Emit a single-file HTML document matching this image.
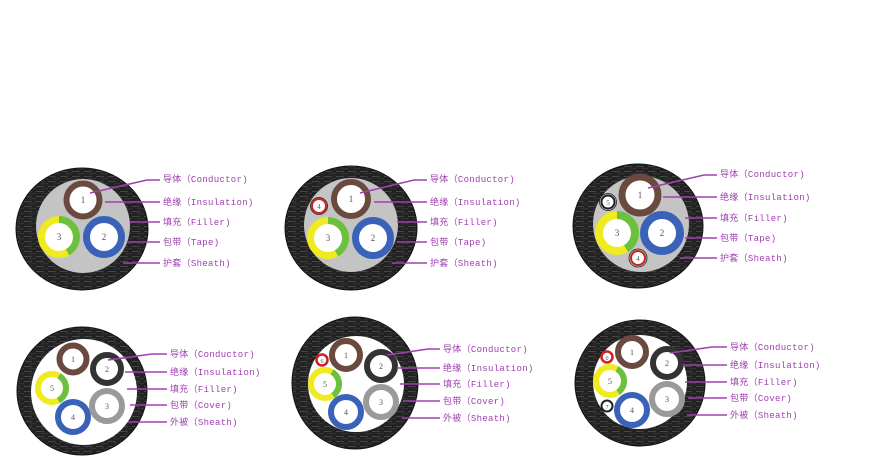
<!DOCTYPE html>
<html><head><meta charset="utf-8"><style>
html,body{margin:0;padding:0;background:#fff;}
svg{display:block;}
.l{font-family:"Liberation Mono","Noto Sans CJK SC",monospace;font-size:9px;fill:#a040b0;letter-spacing:0.3px;}
.ln{stroke:#a040b0;stroke-width:1.6;fill:none;}
.n{font-family:"Liberation Serif",serif;font-size:9px;fill:#555;text-anchor:middle;}
.sh{fill:#252525;}
.st{stroke:#4a4a4a;stroke-width:0.8;}
</style></head><body>
<svg width="894" height="458" viewBox="0 0 894 458" xmlns="http://www.w3.org/2000/svg">
<defs>
<pattern id="str" width="12" height="5" patternUnits="userSpaceOnUse">
<rect width="12" height="5" fill="#222"/>
<line x1="0" y1="1.5" x2="8" y2="1.8" stroke="#555" stroke-width="0.7"/>
<line x1="5" y1="4" x2="12" y2="3.7" stroke="#444" stroke-width="0.6"/>
</pattern>
</defs>

<!-- Diagram 1 -->
<ellipse cx="82" cy="229" rx="66" ry="61" fill="url(#str)" stroke="#111"/>
<circle cx="83" cy="226" r="47" fill="#c4c4c4"/>
<circle cx="83" cy="200" r="16.5" fill="#fff" stroke="#6a4a3e" stroke-width="6"/>
<circle cx="59" cy="237" r="17.5" fill="#fff" stroke="#f0ea20" stroke-width="7"/>
<circle cx="59" cy="237" r="17.5" fill="none" stroke="#6cc040" stroke-width="7" stroke-dasharray="46 200" transform="rotate(-90 59 237)"/>
<circle cx="104" cy="237" r="17.5" fill="#fff" stroke="#3a62b8" stroke-width="7"/>
<text class="n" x="83" y="203">1</text><text class="n" x="59" y="240">3</text><text class="n" x="104" y="240">2</text>
<polyline class="ln" points="160,180 147,180 90,193"/>
<line class="ln" x1="160" y1="202" x2="105" y2="202"/>
<line class="ln" x1="160" y1="222" x2="130" y2="222"/>
<line class="ln" x1="160" y1="242" x2="128" y2="242"/>
<line class="ln" x1="160" y1="263" x2="123" y2="263"/>
<text class="l" x="163" y="182">导体（Conductor)</text>
<text class="l" x="163" y="205">绝缘（Insulation)</text>
<text class="l" x="163" y="225">填充（Filler)</text>
<text class="l" x="163" y="245">包带（Tape)</text>
<text class="l" x="163" y="266">护套（Sheath)</text>

<!-- Diagram 2 -->
<ellipse cx="351" cy="228" rx="66" ry="62" fill="url(#str)" stroke="#111"/>
<circle cx="351" cy="225" r="47" fill="#c4c4c4"/>
<circle cx="351" cy="199" r="17" fill="#fff" stroke="#6a4a3e" stroke-width="6"/>
<circle cx="319" cy="206" r="7" fill="#fff" stroke="#d02020" stroke-width="2"/>
<circle cx="319" cy="206" r="8.5" fill="none" stroke="#222" stroke-width="0.8"/>
<circle cx="328" cy="238" r="17.5" fill="#fff" stroke="#f0ea20" stroke-width="7"/>
<circle cx="328" cy="238" r="17.5" fill="none" stroke="#6cc040" stroke-width="7" stroke-dasharray="46 200" transform="rotate(-90 328 238)"/>
<circle cx="373" cy="238" r="17.5" fill="#fff" stroke="#3a62b8" stroke-width="7"/>
<text class="n" x="351" y="202">1</text><text class="n" x="319" y="209" style="font-size:7px">4</text><text class="n" x="328" y="241">3</text><text class="n" x="373" y="241">2</text>
<polyline class="ln" points="427,180 414,180 360,193"/>
<line class="ln" x1="427" y1="202" x2="374" y2="202"/>
<line class="ln" x1="427" y1="222" x2="397" y2="222"/>
<line class="ln" x1="427" y1="242" x2="397" y2="242"/>
<line class="ln" x1="427" y1="263" x2="392" y2="263"/>
<text class="l" x="430" y="182">导体（Conductor)</text>
<text class="l" x="430" y="205">绝缘（Insulation)</text>
<text class="l" x="430" y="225">填充（Filler)</text>
<text class="l" x="430" y="245">包带（Tape)</text>
<text class="l" x="430" y="266">护套（Sheath)</text>

<!-- Diagram 3 -->
<ellipse cx="638" cy="226" rx="65" ry="62" fill="url(#str)" stroke="#111"/>
<circle cx="641" cy="224" r="48" fill="#c4c4c4"/>
<circle cx="640" cy="195" r="18" fill="#fff" stroke="#6a4a3e" stroke-width="7"/>
<circle cx="608" cy="202" r="6.5" fill="#fff" stroke="#222" stroke-width="2"/>
<circle cx="608" cy="202" r="8.5" fill="none" stroke="#222" stroke-width="0.8"/>
<circle cx="617" cy="233" r="18" fill="#fff" stroke="#f0ea20" stroke-width="8"/>
<circle cx="617" cy="233" r="18" fill="none" stroke="#6cc040" stroke-width="8" stroke-dasharray="47 200" transform="rotate(-90 617 233)"/>
<circle cx="662" cy="233" r="18" fill="#fff" stroke="#3a62b8" stroke-width="8"/>
<circle cx="638" cy="258" r="7" fill="#fff" stroke="#d02020" stroke-width="2"/>
<circle cx="638" cy="258" r="9" fill="none" stroke="#222" stroke-width="0.8"/>
<text class="n" x="640" y="198">1</text><text class="n" x="608" y="205" style="font-size:7px">5</text><text class="n" x="617" y="236">3</text><text class="n" x="662" y="236">2</text><text class="n" x="638" y="261" style="font-size:7px">4</text>
<polyline class="ln" points="717,175 704,175 648,188"/>
<line class="ln" x1="717" y1="197" x2="663" y2="197"/>
<line class="ln" x1="717" y1="218" x2="685" y2="218"/>
<line class="ln" x1="717" y1="238" x2="685" y2="238"/>
<line class="ln" x1="717" y1="258" x2="680" y2="258"/>
<text class="l" x="720" y="177">导体（Conductor)</text>
<text class="l" x="720" y="200">绝缘（Insulation)</text>
<text class="l" x="720" y="221">填充（Filler)</text>
<text class="l" x="720" y="241">包带（Tape)</text>
<text class="l" x="720" y="261">护套（Sheath)</text>

<!-- Diagram 4 -->
<ellipse cx="82" cy="391" rx="65" ry="64" fill="url(#str)" stroke="#111"/>
<circle cx="84" cy="392" r="53" fill="#fff"/>
<circle cx="73" cy="359" r="13.5" fill="#fff" stroke="#6a4a3e" stroke-width="6"/>
<circle cx="107" cy="369" r="14" fill="#fff" stroke="#333" stroke-width="6"/>
<circle cx="52" cy="388" r="14" fill="#fff" stroke="#f0ea20" stroke-width="6"/>
<circle cx="52" cy="388" r="14" fill="none" stroke="#6cc040" stroke-width="6" stroke-dasharray="30 200" transform="rotate(-60 52 388)"/>
<circle cx="73" cy="417" r="15" fill="#fff" stroke="#3a62b8" stroke-width="6"/>
<circle cx="107" cy="406" r="15" fill="#fff" stroke="#9a9a9a" stroke-width="6"/>
<text class="n" x="73" y="362" style="font-size:8px">1</text><text class="n" x="107" y="372" style="font-size:8px">2</text><text class="n" x="52" y="391" style="font-size:8px">5</text><text class="n" x="73" y="420" style="font-size:8px">4</text><text class="n" x="107" y="409" style="font-size:8px">3</text>
<polyline class="ln" points="167,354 152,354 108,360"/>
<line class="ln" x1="167" y1="372" x2="125" y2="372"/>
<line class="ln" x1="167" y1="389" x2="127" y2="389"/>
<line class="ln" x1="167" y1="405" x2="130" y2="405"/>
<line class="ln" x1="167" y1="422" x2="128" y2="422"/>
<text class="l" x="170" y="357">导体（Conductor)</text>
<text class="l" x="170" y="375">绝缘（Insulation)</text>
<text class="l" x="170" y="392">填充（Filler)</text>
<text class="l" x="170" y="408">包带（Cover)</text>
<text class="l" x="170" y="425">外被（Sheath)</text>

<!-- Diagram 5 -->
<ellipse cx="355" cy="383" rx="63" ry="66" fill="url(#str)" stroke="#111"/>
<circle cx="356" cy="384" r="48" fill="#fff"/>
<circle cx="322" cy="360" r="5.5" fill="#fff" stroke="#d02020" stroke-width="2.5"/>
<circle cx="346" cy="355" r="14" fill="#fff" stroke="#6a4a3e" stroke-width="6"/>
<circle cx="381" cy="366" r="14" fill="#fff" stroke="#333" stroke-width="6"/>
<circle cx="325" cy="384" r="14" fill="#fff" stroke="#f0ea20" stroke-width="6"/>
<circle cx="325" cy="384" r="14" fill="none" stroke="#6cc040" stroke-width="6" stroke-dasharray="28 200" transform="rotate(-60 325 384)"/>
<circle cx="381" cy="402" r="15" fill="#fff" stroke="#9a9a9a" stroke-width="6"/>
<circle cx="346" cy="412" r="15" fill="#fff" stroke="#3a62b8" stroke-width="6"/>
<text class="n" x="322" y="363" style="font-size:6px">6</text><text class="n" x="346" y="358" style="font-size:8px">1</text><text class="n" x="381" y="369" style="font-size:8px">2</text><text class="n" x="325" y="387" style="font-size:8px">5</text><text class="n" x="381" y="405" style="font-size:8px">3</text><text class="n" x="346" y="415" style="font-size:8px">4</text>
<polyline class="ln" points="440,349 428,349 387,355"/>
<line class="ln" x1="440" y1="368" x2="397" y2="368"/>
<line class="ln" x1="440" y1="384" x2="400" y2="384"/>
<line class="ln" x1="440" y1="401" x2="403" y2="401"/>
<line class="ln" x1="440" y1="418" x2="402" y2="418"/>
<text class="l" x="443" y="352">导体（Conductor)</text>
<text class="l" x="443" y="371">绝缘（Insulation)</text>
<text class="l" x="443" y="387">填充（Filler)</text>
<text class="l" x="443" y="404">包带（Cover)</text>
<text class="l" x="443" y="421">外被（Sheath)</text>

<!-- Diagram 6 -->
<ellipse cx="640" cy="383" rx="65" ry="63" fill="url(#str)" stroke="#111"/>
<circle cx="640" cy="382" r="47" fill="#fff"/>
<circle cx="607" cy="357" r="5.5" fill="#fff" stroke="#d02020" stroke-width="2.5"/>
<circle cx="632" cy="352" r="14" fill="#fff" stroke="#6a4a3e" stroke-width="6"/>
<circle cx="667" cy="363" r="14" fill="#fff" stroke="#333" stroke-width="6"/>
<circle cx="610" cy="381" r="14" fill="#fff" stroke="#f0ea20" stroke-width="6"/>
<circle cx="610" cy="381" r="14" fill="none" stroke="#6cc040" stroke-width="6" stroke-dasharray="28 200" transform="rotate(-60 610 381)"/>
<circle cx="607" cy="406" r="5.5" fill="#fff" stroke="#222" stroke-width="2"/>
<circle cx="632" cy="410" r="15" fill="#fff" stroke="#3a62b8" stroke-width="6"/>
<circle cx="667" cy="399" r="15" fill="#fff" stroke="#9a9a9a" stroke-width="6"/>
<text class="n" x="607" y="360" style="font-size:6px">0</text><text class="n" x="632" y="355" style="font-size:8px">1</text><text class="n" x="667" y="366" style="font-size:8px">2</text><text class="n" x="610" y="384" style="font-size:8px">5</text><text class="n" x="607" y="409" style="font-size:6px">7</text><text class="n" x="632" y="413" style="font-size:8px">4</text><text class="n" x="667" y="402" style="font-size:8px">3</text>
<polyline class="ln" points="727,347 712,347 670,353"/>
<line class="ln" x1="727" y1="365" x2="683" y2="365"/>
<line class="ln" x1="727" y1="382" x2="685" y2="382"/>
<line class="ln" x1="727" y1="398" x2="688" y2="398"/>
<line class="ln" x1="727" y1="415" x2="687" y2="415"/>
<text class="l" x="730" y="350">导体（Conductor)</text>
<text class="l" x="730" y="368">绝缘（Insulation)</text>
<text class="l" x="730" y="385">填充（Filler)</text>
<text class="l" x="730" y="401">包带（Cover)</text>
<text class="l" x="730" y="418">外被（Sheath)</text>
</svg>
</body></html>
